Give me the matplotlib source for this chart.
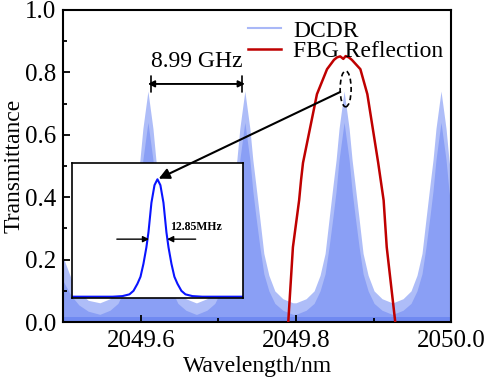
import matplotlib
matplotlib.use("Agg")
import matplotlib.pyplot as plt
import numpy as np
from matplotlib.patches import Ellipse

plt.rcParams['font.family'] = ['Liberation Serif', 'DejaVu Serif']

# DCDR comb: peak centres (nm) and one peak profile
peak_centres = [2049.609, 2049.734, 2049.862, 2049.987]
peak_offsets = [0.0, 0.0065, 0.0103, 0.0142, 0.0194, 0.0245, 0.031, 0.0387, 0.049, 0.062]
peak_upper = [0.74, 0.62, 0.52, 0.44, 0.33, 0.22, 0.15, 0.10, 0.075, 0.062]
peak_lower = [0.64, 0.52, 0.42, 0.34, 0.24, 0.155, 0.10, 0.06, 0.038, 0.025]
# left edge of the window (tail of the previous peak)
edge_wl = [2049.500, 2049.510, 2049.520, 2049.532]
edge_upper = [0.205, 0.14, 0.095, 0.07]
edge_lower = [0.13, 0.085, 0.055, 0.035]

# FBG reflection
fbg_wl = [2049.790, 2049.796, 2049.804, 2049.8065, 2049.809, 2049.818, 2049.827,
          2049.840, 2049.849, 2049.853, 2049.857, 2049.861, 2049.864, 2049.868,
          2049.872, 2049.883, 2049.892, 2049.899, 2049.906, 2049.913, 2049.917, 2049.928]
fbg_r = [0.0, 0.24, 0.39, 0.455, 0.51, 0.62, 0.73,
         0.81, 0.84, 0.848, 0.851, 0.843, 0.852, 0.848,
         0.84, 0.81, 0.73, 0.62, 0.51, 0.39, 0.24, 0.0]

# inset: single resonance, detuning in MHz
inset_offsets = [0, 2.1, 4.3, 6.4, 7.9, 10, 12.1, 14.3, 17.1, 20, 25, 32, 61]
inset_vals = [1.0, 0.95, 0.80, 0.55, 0.42, 0.28, 0.17, 0.11, 0.05, 0.02, 0.005, 0.0, 0.0]


def build_comb(profile, edge):
    wl = list(edge_wl)
    val = list(edge)
    for c in peak_centres:
        for o, v in zip(peak_offsets[::-1], profile[::-1]):
            wl.append(c - o)
            val.append(v)
        for o, v in zip(peak_offsets[1:], profile[1:]):
            wl.append(c + o)
            val.append(v)
    return np.array(wl), np.array(val)


fig = plt.figure(figsize=(4.84, 3.79), dpi=100)
ax = fig.add_axes([0.131, 0.150, 0.801, 0.824])

wl_u, t_u = build_comb(peak_upper, edge_upper)
wl_l, t_l = build_comb(peak_lower, edge_lower)
ax.fill_between(wl_u, 0, t_u, color='#aebdf8', lw=0, zorder=1)
ax.fill_between(wl_l, 0, t_l, color='#8a9ff5', lw=0, zorder=1.1)
ax.axhspan(0, 0.015, color='#6f89f1', lw=0, zorder=1.2)

ax.plot(fbg_wl, fbg_r, color='#bf0000', lw=1.8, zorder=3, label='FBG Reflection')
ax.plot([], [], color='#a9b8f7', lw=1.5, label='DCDR')

handles, labels = ax.get_legend_handles_labels()
ax.legend(handles[::-1], labels[::-1], loc='upper right', frameon=False, fontsize=17,
          handlelength=1.4, handletextpad=0.5, labelspacing=-0.05,
          borderaxespad=0.1, bbox_to_anchor=(1.01, 1.005))

ax.set_xlim(2049.5, 2050.0)
ax.set_ylim(0, 1.0)
ax.set_xticks([2049.6, 2049.8, 2050.0])
ax.set_xticks([2049.7, 2049.9], minor=True)
ax.set_yticks(np.arange(0, 1.01, 0.2))
ax.set_yticks(np.arange(0.1, 1.0, 0.2), minor=True)
ax.xaxis.set_major_formatter(matplotlib.ticker.FormatStrFormatter('%.1f'))
ax.yaxis.set_major_formatter(matplotlib.ticker.FormatStrFormatter('%.1f'))
ax.tick_params(which='both', direction='in', labelsize=18, width=1.3, pad=5)
ax.tick_params(axis='x', which='both', pad=6)
ax.tick_params(which='major', length=5)
ax.tick_params(which='minor', length=3)
for s in ax.spines.values():
    s.set_linewidth(1.5)
ax.set_xlabel('Wavelength/nm', fontsize=17)
ax.set_ylabel('Transmittance', fontsize=17)
ax.xaxis.set_label_coords(0.5, -0.108)
ax.yaxis.set_label_coords(-0.099, 0.5)

# FSR marker
ax.annotate('', xy=(2049.609, 0.763), xytext=(2049.734, 0.763),
            arrowprops=dict(arrowstyle='|-|', lw=1.2, color='black', mutation_scale=6), zorder=5)
ax.annotate('', xy=(2049.609, 0.763), xytext=(2049.734, 0.763),
            arrowprops=dict(arrowstyle='<|-|>', lw=1.2, color='black', mutation_scale=10,
                            shrinkA=0, shrinkB=0), zorder=5)
ax.text(2049.672, 0.834, '8.99 GHz', fontsize=17, ha='center', va='center', zorder=5)

ax.add_patch(Ellipse((2049.864, 0.747), 0.0142, 0.115, fill=False, ls=(0, (3, 2)),
                     lw=1.2, color='black', zorder=5))

# inset
axin = fig.add_axes([0.1488, 0.215, 0.353, 0.356])
x_in = np.array([-o for o in inset_offsets[::-1]] + inset_offsets[1:])
y_in = np.array(inset_vals[::-1] + inset_vals[1:])
axin.plot(x_in, y_in, color='#0a14ff', lw=1.5)
axin.set_xlim(-61, 61)
axin.set_ylim(-0.007, 1.142)
axin.set_xticks([])
axin.set_yticks([])
for s in axin.spines.values():
    s.set_linewidth(1.2)
axin.annotate('', xy=(-6.0, 0.49), xytext=(-29, 0.49),
              arrowprops=dict(arrowstyle='-|>', lw=1.0, color='black', mutation_scale=9,
                              shrinkA=0, shrinkB=0))
axin.annotate('', xy=(6.9, 0.49), xytext=(27.3, 0.49),
              arrowprops=dict(arrowstyle='-|>', lw=1.0, color='black', mutation_scale=9,
                              shrinkA=0, shrinkB=0))
axin.text(8.8, 0.59, '12.85MHz', fontsize=8.5, fontweight='bold', ha='left', va='center')

axin.annotate('', xy=(0, 1.0), xycoords='data', xytext=(2049.857, 0.737),
              textcoords=ax.transData, annotation_clip=False,
              arrowprops=dict(arrowstyle='-|>', lw=1.5, color='black', mutation_scale=16,
                              shrinkA=0, shrinkB=1))

fig.savefig('out.png', dpi=100)
